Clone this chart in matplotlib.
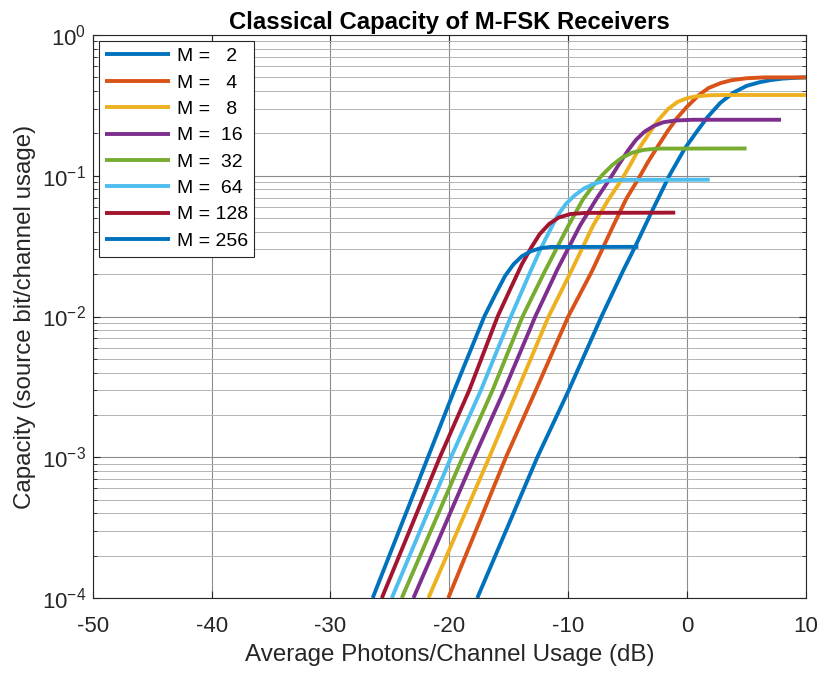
import matplotlib
matplotlib.use("Agg")
import matplotlib.pyplot as plt
from matplotlib.ticker import LogLocator, NullFormatter, MultipleLocator

plt.rcParams['font.family'] = ['Liberation Sans', 'DejaVu Sans']
plt.rcParams['axes.unicode_minus'] = False

# legend labels (MATLAB sprintf('M = %3d'))
labels = ["M =   2", "M =   4", "M =   8", "M =  16",
          "M =  32", "M =  64", "M = 128", "M = 256"]

# curves: average photons (dB) and capacity
db_m2 = [-17.65, -12.6, -9.95, -7.2, -5.4, -4.4, -3.0, -1.5, -0.2, 0.8, 1.7, 2.8, 3.9, 5.0, 6.1, 7.0, 8.0, 9.0, 10.0]
cap_m2 = [1e-4, 1e-3, 3e-3, 1e-2, 0.021, 0.031, 0.055, 0.1, 0.156, 0.205, 0.26, 0.33, 0.39, 0.435, 0.462, 0.478, 0.49, 0.496, 0.5]

db_m4 = [-20.09, -15.24, -12.72, -10.0, -8.0, -6.2, -5.1, -4.1, -3.3, -2.4, -1.6, -0.8, 0.0, 1.0, 1.8, 2.8, 3.7, 5.0, 6.5, 10.0]
cap_m4 = [1e-4, 1e-3, 3e-3, 1e-2, 0.021, 0.0444, 0.069, 0.095, 0.125, 0.165, 0.21, 0.26, 0.31, 0.375, 0.42, 0.455, 0.477, 0.493, 0.5, 0.5]

db_m8 = [-21.76, -16.64, -14.26, -11.65, -9.7, -7.9, -6.65, -5.5, -4.7, -4.0, -3.2, -2.4, -1.6, -0.8, 0.0, 0.8, 1.8, 3.0, 10.0]
cap_m8 = [1e-4, 1e-3, 3e-3, 1e-2, 0.0214, 0.0444, 0.067, 0.094, 0.123, 0.158, 0.2, 0.25, 0.298, 0.335, 0.356, 0.367, 0.373, 0.375, 0.375]

db_m16 = [-23.02, -17.9, -15.38, -12.77, -10.9, -9.0, -7.6, -6.5, -5.75, -5.0, -4.3, -3.6, -2.8, -2.0, -1.0, 0.5, 7.9]
cap_m16 = [1e-4, 1e-3, 3e-3, 1e-2, 0.0217, 0.0444, 0.069, 0.095, 0.12, 0.15, 0.18, 0.205, 0.226, 0.24, 0.247, 0.25, 0.25]

db_m32 = [-24.0, -18.88, -16.36, -13.84, -12.0, -10.0, -8.76, -7.9, -7.1, -6.3, -5.5, -4.6, -3.6, -2.4, 5.0]
cap_m32 = [1e-4, 1e-3, 3e-3, 1e-2, 0.0207, 0.044, 0.068, 0.085, 0.102, 0.119, 0.134, 0.146, 0.153, 0.156, 0.15625]

db_m64 = [-24.84, -19.86, -17.34, -14.82, -13.2, -12.3, -11.6, -10.9, -10.2, -9.5, -8.7, -7.8, -6.8, -5.5, 1.9]
cap_m64 = [1e-4, 1e-3, 3e-3, 1e-2, 0.0207, 0.0305, 0.04, 0.052, 0.063, 0.072, 0.081, 0.088, 0.0925, 0.0935, 0.09375]

db_m128 = [-25.68, -20.8, -18.32, -15.94, -14.9, -13.9, -13.1, -12.4, -11.6, -10.8, -9.8, -8.5, -1.0]
cap_m128 = [1e-4, 1e-3, 3e-3, 1e-2, 0.0155, 0.0235, 0.031, 0.0385, 0.0455, 0.0505, 0.0535, 0.0545, 0.0547]

db_m256 = [-26.45, -21.8, -19.58, -17.06, -16.1, -15.3, -14.6, -13.9, -13.1, -12.3, -11.5, -4.1]
cap_m256 = [1e-4, 1e-3, 3e-3, 1e-2, 0.0145, 0.0195, 0.0235, 0.0268, 0.0292, 0.0306, 0.0312, 0.03125]

db_all = [db_m2, db_m4, db_m8, db_m16, db_m32, db_m64, db_m128, db_m256]
cap_all = [cap_m2, cap_m4, cap_m8, cap_m16, cap_m32, cap_m64, cap_m128, cap_m256]

# MATLAB default colour order
colors = ['#0072BD', '#D95319', '#EDB120', '#7E2F8E',
          '#77AC30', '#4DBEEE', '#A2142F', '#0072BD']

fig = plt.figure(figsize=(8.22, 6.75), dpi=100)
ax = fig.add_axes([0.1128, 0.1141, 0.8677, 0.834])

for x, y, c, lab in zip(db_all, cap_all, colors, labels):
    ax.semilogy(x, y, color=c, lw=2.8, label=lab, solid_capstyle='butt')

ax.set_xlim(-50, 10)
ax.set_ylim(1e-4, 1)
ax.xaxis.set_major_locator(MultipleLocator(10))
ax.yaxis.set_major_locator(LogLocator(base=10, numticks=10))
ax.yaxis.set_minor_locator(LogLocator(base=10, subs=range(2, 10), numticks=20))
ax.yaxis.set_minor_formatter(NullFormatter())

ax.grid(True, which='major', color='#8c8c8c', lw=0.8)
ax.grid(True, which='minor', axis='y', color='#b4b4b4', lw=0.7)
ax.set_axisbelow(True)

ax.tick_params(which='both', direction='in', top=True, right=True, labelsize=16, colors='#262626')
ax.tick_params(which='major', length=5)
ax.tick_params(which='minor', length=3)
ax.tick_params(axis='x', pad=13)
ax.tick_params(axis='y', pad=5)
for s in ax.spines.values():
    s.set_color('#262626')
    s.set_linewidth(0.8)

ax.set_xlabel("Average Photons/Channel Usage (dB)", fontsize=17.4, color='#262626', labelpad=5)
ax.set_ylabel("Capacity (source bit/channel usage)", fontsize=17.4, color='#262626', labelpad=4)
ax.set_title("Classical Capacity of M-FSK Receivers", fontsize=17.2, fontweight='bold', pad=4)

leg = ax.legend(loc='upper left', fontsize=14, handlelength=3.3, labelspacing=0.45,
                borderaxespad=0.3, fancybox=False, framealpha=1, edgecolor='#262626',
                handletextpad=0.36, borderpad=0.35)
leg.get_frame().set_linewidth(0.8)

fig.savefig("out.png", dpi=100)
